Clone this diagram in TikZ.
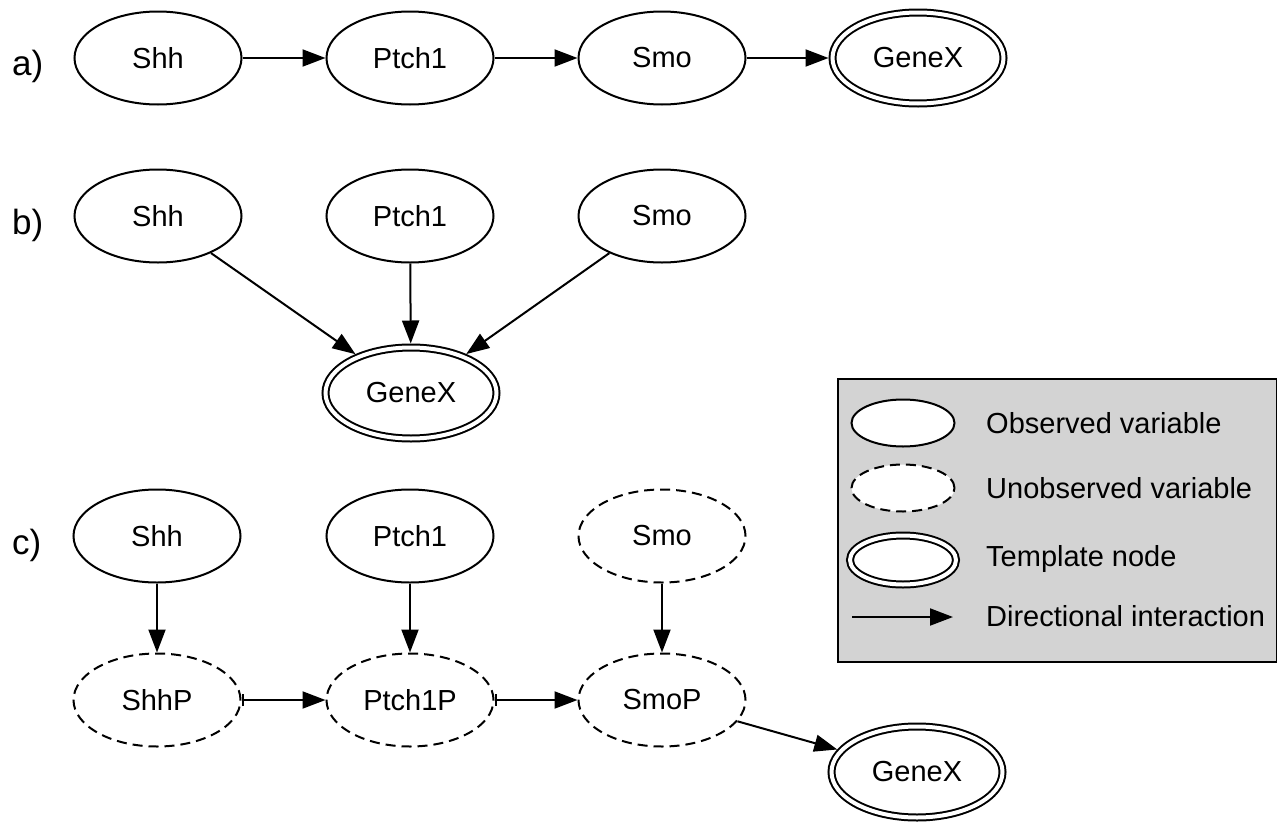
\documentclass[tikz,border=0pt]{standalone}
\usepackage{fontspec}
\setmainfont{Liberation Sans}
\usetikzlibrary{shapes.geometric,arrows.meta}
\definecolor{legendgray}{RGB}{211,211,211}
\begin{document}
\begin{tikzpicture}[x=1pt,y=-1pt,
  font=\fontsize{29}{34}\selectfont,
  obs/.style={ellipse,draw,line width=2pt,fill=white,minimum width=167pt,minimum height=93pt,inner sep=0pt},
  unobs/.style={obs,dash pattern=on 10pt off 6pt},
  tmpl/.style={obs,double,double distance=4pt,minimum width=171pt,minimum height=91pt,outer sep=4pt},
  arr/.style={line width=2pt,-{Triangle[length=23pt,width=17pt]}},
  teearr/.style={line width=2pt,{Bar[width=12pt]}-{Triangle[length=23pt,width=17pt]}},
  lbl/.style={font=\fontsize{35}{40}\selectfont,anchor=base west,inner sep=0pt},
  legtext/.style={anchor=west,inner sep=0pt}
]
\useasboundingbox (0,0) rectangle (1278,825);

% row a
\node[lbl] (la) at (12,75) {a)};
\node[obs] (a1) at (158,58) {Shh};
\node[obs] (a2) at (410,58) {Ptch1};
\node[obs] (a3) at (662,58) {Smo};
\node[tmpl] (a4) at (918,58) {GeneX};
\draw[arr] (a1) -- (a2);
\draw[arr] (a2) -- (a3);
\draw[arr] (a3) -- (a4);

% row b
\node[lbl] (lb) at (12,234) {b)};
\node[obs] (b1) at (158,216) {Shh};
\node[obs] (b2) at (410,216) {Ptch1};
\node[obs] (b3) at (662,216) {Smo};
\node[tmpl] (b4) at (411,393) {GeneX};
\draw[arr] (b1) -- (b4);
\draw[arr] (b2) -- (b4);
\draw[arr] (b3) -- (b4);

% row c
\node[lbl] (lc) at (12,554) {c)};
\node[obs] (c1) at (157,536) {Shh};
\node[obs] (c2) at (410,536) {Ptch1};
\node[unobs] (c3) at (662,536) {Smo};
\node[unobs] (c4) at (157,700) {ShhP};
\node[unobs] (c5) at (410,700) {Ptch1P};
\node[unobs] (c6) at (662,700) {SmoP};
\node[tmpl] (c7) at (917,772) {GeneX};
\draw[arr] (c1) -- (c4);
\draw[arr] (c2) -- (c5);
\draw[arr] (c3) -- (c6);
\draw[teearr] (c4) -- (c5);
\draw[teearr] (c5) -- (c6);
\draw[arr] (c6) -- (c7);

% legend
\draw[line width=1.8pt,fill=legendgray] (838,379) rectangle (1276.5,662);
\node[obs,minimum width=103pt,minimum height=47pt] (lobs) at (903,423) {};
\node[unobs,minimum width=103pt,minimum height=47pt] (lunobs) at (903,488) {};
\node[tmpl,minimum width=106pt,minimum height=49pt] (ltmpl) at (903,560) {};
\coordinate (la1) at (852,617);
\coordinate (la2) at (953,617);
\draw[arr] (la1) -- (la2);
\node[legtext] (t1) at (986,423) {Observed variable};
\node[legtext] (t2) at (986,488) {Unobserved variable};
\node[legtext] (t3) at (986,559) {Template node};
\node[legtext] (t4) at (986,616) {Directional interaction};
\end{tikzpicture}
\end{document}
